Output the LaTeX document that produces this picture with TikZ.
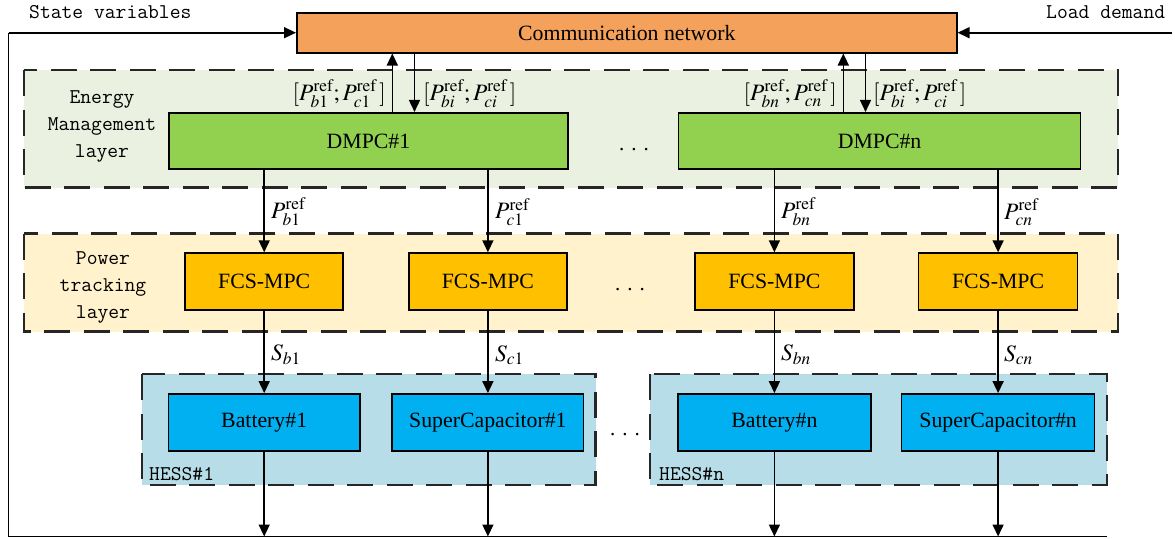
\documentclass[tikz,border=0pt]{standalone}
\usepackage{mathptmx}
\usepackage[no-math]{fontspec}
\setmainfont{Liberation Serif}
\usetikzlibrary{arrows.meta}
\definecolor{commC}{HTML}{F4A15B}
\definecolor{dmpcC}{HTML}{92D050}
\definecolor{fcsC}{HTML}{FFC000}
\definecolor{batC}{HTML}{00B0F0}
\definecolor{emBg}{HTML}{EBF1E0}
\definecolor{ptBg}{HTML}{FFF2CC}
\definecolor{hsBg}{HTML}{B7DEE8}
\tikzset{
  blk/.style={draw=black, line width=1.6pt, inner sep=0pt, font=\fontsize{21.8}{24}\selectfont},
  layerbox/.style={draw=black!85, line width=2.4pt, dash pattern=on 26pt off 13.5pt},
  arr/.style={line width=1.6pt, -{Triangle[length=12pt,width=11pt]}},
  ln/.style={line width=1.6pt},
  mono/.style={font=\ttfamily\fontsize{21}{27}\selectfont, inner sep=0pt},
  lbl/.style={font=\fontsize{23.5}{26}\selectfont, inner sep=0pt},
  dotsn/.style={font=\fontsize{21}{24}\selectfont, inner sep=0pt, anchor=base}
}
\begin{document}
\begin{tikzpicture}[x=1pt,y=-1pt]
\useasboundingbox (0,0) rectangle (1175,538);
% layer backgrounds
\fill[emBg] (23.7,70) rectangle (1117.7,187.5);
\draw[layerbox] (23.7,70) rectangle (1117.7,187.5);
\fill[ptBg] (23.7,233.5) rectangle (1118,331.5);
\draw[layerbox] (23.7,233.5) rectangle (1118,331.5);
\fill[hsBg] (142,374) rectangle (595.5,485);
\draw[layerbox] (142,374) rectangle (595.5,485);
\fill[hsBg] (649.7,374) rectangle (1107,485);
\draw[layerbox] (649.7,374) rectangle (1107,485);
% blocks
\node[blk, fill=commC, minimum width=660pt, minimum height=40pt] (comm) at (626.8,32.7) {Communication network};
\node[blk, fill=dmpcC, minimum width=399pt, minimum height=56.5pt] (d1) at (368.5,141) {DMPC\#1};
\node[blk, fill=dmpcC, minimum width=402pt, minimum height=56.5pt] (dn) at (879.6,141) {DMPC\#n};
\node[blk, fill=fcsC, minimum width=158pt, minimum height=57pt] (f1) at (264.2,281.6) {FCS-MPC};
\node[blk, fill=fcsC, minimum width=158pt, minimum height=57pt] (f2) at (487.9,281.6) {FCS-MPC};
\node[blk, fill=fcsC, minimum width=159pt, minimum height=57pt] (f3) at (774.4,281.6) {FCS-MPC};
\node[blk, fill=fcsC, minimum width=159pt, minimum height=57pt] (f4) at (998.1,281.6) {FCS-MPC};
\node[blk, fill=batC, minimum width=191.5pt, minimum height=57pt] (b1) at (264.2,422.4) {Battery\#1};
\node[blk, fill=batC, minimum width=191.5pt, minimum height=57pt] (s1) at (487.9,422.4) {SuperCapacitor\#1};
\node[blk, fill=batC, minimum width=193pt, minimum height=57pt] (bn) at (774.4,422.4) {Battery\#n};
\node[blk, fill=batC, minimum width=193pt, minimum height=57pt] (sn) at (998.1,422.4) {SuperCapacitor\#n};
% free ends
\coordinate (bl) at (8.5,536.5);
\coordinate (br) at (1107,536.5);
\coordinate (tl) at (8.5,32.7);
\coordinate (ld) at (1172,32.7);
% feedback loop and load demand
\draw[ln] (br) -- (bl) -- (tl);
\draw[arr] (tl) -- (comm.west);
\draw[arr] (ld) -- (comm.east);
% comm <-> DMPC
\draw[arr] (d1.north -| 392.3,0) -- (comm.south -| 392.3,0);
\draw[arr] (comm.south -| 414.5,0) -- (d1.north -| 414.5,0);
\draw[arr] (dn.north -| 843.3,0) -- (comm.south -| 843.3,0);
\draw[arr] (comm.south -| 865.5,0) -- (dn.north -| 865.5,0);
% DMPC -> FCS
\draw[arr] (d1.south -| f1.north) -- (f1.north);
\draw[arr] (d1.south -| f2.north) -- (f2.north);
\draw[arr] (dn.south -| f3.north) -- (f3.north);
\draw[arr] (dn.south -| f4.north) -- (f4.north);
% FCS -> storage
\draw[arr] (f1.south) -- (b1.north);
\draw[arr] (f2.south) -- (s1.north);
\draw[arr] (f3.south) -- (bn.north);
\draw[arr] (f4.south) -- (sn.north);
% storage -> bottom line
\draw[arr] (b1.south) -- (b1.south |- bl);
\draw[arr] (s1.south) -- (s1.south |- bl);
\draw[arr] (bn.south) -- (bn.south |- bl);
\draw[arr] (sn.south) -- (sn.south |- bl);
% labels
\node[lbl, anchor=east] (l1) at (386,94) {$[P^{\mathrm{ref}}_{b1};P^{\mathrm{ref}}_{c1}\,]$};
\node[lbl, anchor=west] (l2) at (423,94) {$[P^{\mathrm{ref}}_{bi};P^{\mathrm{ref}}_{ci}\,]$};
\node[lbl, anchor=east] (l3) at (837,94) {$[P^{\mathrm{ref}}_{bn};P^{\mathrm{ref}}_{cn}\,]$};
\node[lbl, anchor=west] (l4) at (873,94) {$[P^{\mathrm{ref}}_{bi};P^{\mathrm{ref}}_{ci}\,]$};
\node[lbl, anchor=west] (p1) at (271,212) {$P^{\mathrm{ref}}_{b1}$};
\node[lbl, anchor=west] (p2) at (495,212) {$P^{\mathrm{ref}}_{c1}$};
\node[lbl, anchor=west] (p3) at (781,212) {$P^{\mathrm{ref}}_{bn}$};
\node[lbl, anchor=west] (p4) at (1004,212) {$P^{\mathrm{ref}}_{cn}$};
\node[lbl, anchor=west] (q1) at (271,355) {$S_{b1}$};
\node[lbl, anchor=west] (q2) at (495,355) {$S_{c1}$};
\node[lbl, anchor=west] (q3) at (781,355) {$S_{bn}$};
\node[lbl, anchor=west] (q4) at (1004,355) {$S_{cn}$};
% text labels
\node[mono, anchor=base west] (sv) at (29,18) {State variables};
\node[mono, anchor=base west] (ldt) at (1046,18) {Load demand};
\node[mono, align=center] (eml) at (102,126) {Energy\\Management\\layer};
\node[mono, align=center] (ptl) at (103,287) {Power\\tracking\\layer};
\node[mono, anchor=base west] (h1) at (149,480) {HESS\#1};
\node[mono, anchor=base west] (hn) at (659,480) {HESS\#n};
% dots
\node[dotsn] (e1) at (634,150) {.\hspace{7pt}.\hspace{7pt}.};
\node[dotsn] (e2) at (630,290) {.\hspace{7pt}.\hspace{7pt}.};
\node[dotsn] (e3) at (625,435) {.\hspace{7pt}.\hspace{7pt}.};
\end{tikzpicture}
\end{document}
